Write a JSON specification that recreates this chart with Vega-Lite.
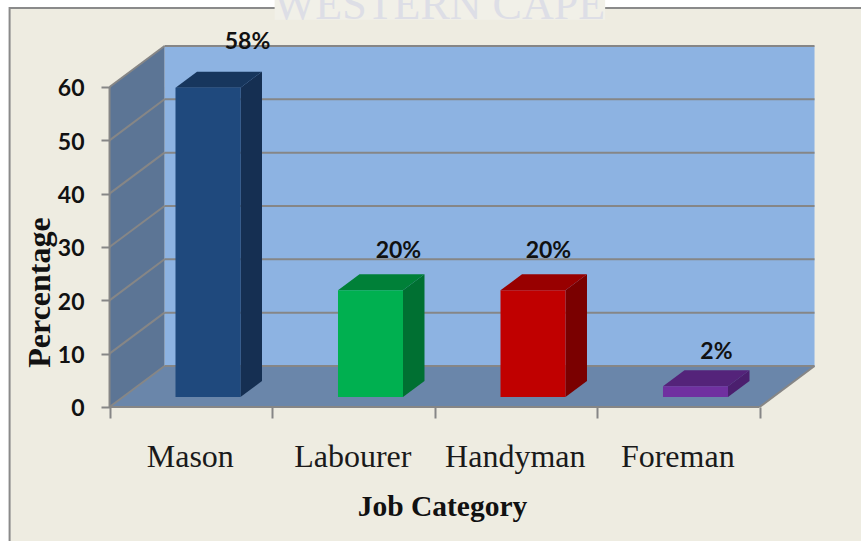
{
"$schema":"https://vega.github.io/schema/vega-lite/v6.json",
"width":861,"height":541,"padding":0,"autosize":{"type":"none"},
"background":"#ffffff",
"view":{"stroke":null},
"params":[
{"name":"dx","value":0.3385},{"name":"dy","value":7.69},
{"name":"bdx","value":0.1323},{"name":"bdy","value":3.0},
{"name":"inset","value":1.875}
],
"datasets":{
"bars":[
{"category":"Mason","index":0,"value":58},
{"category":"Labourer","index":1,"value":20},
{"category":"Handyman","index":2,"value":20},
{"category":"Foreman","index":3,"value":2}
],
"ticks":[{"tick":0},{"tick":10},{"tick":20},{"tick":30},{"tick":40},{"tick":50},{"tick":60}],
"one":[{"k":0}]
},
"encoding":{
"x":{"field":"x","type":"quantitative",
"scale":{"domain":[-0.674,4.6245],"nice":false,"zero":false},
"axis":{"orient":"bottom","offset":-134,"zindex":1,"grid":false,"domain":false,
"values":[0,0.5,1,1.5,2,2.5,3,3.5,4],
"labelExpr":"{'0.5':'Mason','1.5':'Labourer','2.5':'Handyman','3.5':'Foreman'}[datum.value] || ''",
"tickColor":{"condition":{"test":"datum.value % 1 == 0","value":"#868686"},"value":"transparent"},
"tickSize":11,"tickWidth":2,"labelPadding":23,"labelOffset":-1,"labelFont":"Liberation Serif","labelFontSize":32,"labelColor":"#1a1a1a","labelOverlap":false,"labelFlush":false,"labelBound":false,
"title":"Job Category","titleFont":"Liberation Serif","titleFontWeight":"bold","titleFontSize":29.5,"titleColor":"#111111","titleX":442,"titleY":85,"titleAnchor":"middle","titleAlign":"center"}},
"y":{"field":"y","type":"quantitative",
"scale":{"domain":[-25.125,76.31],"nice":false,"zero":false},
"axis":{"orient":"left","offset":-110,"zindex":1,"grid":false,"domain":false,
"values":[0,10,20,30,40,50,60],"tickColor":"#868686","tickSize":9,"tickWidth":2,"labelPadding":17,"labelOffset":2,"labelFont":"Lato","labelFontWeight":"bold","labelFontSize":23,"labelColor":"#111111",
"title":"Percentage","titleFont":"Liberation Serif","titleFontWeight":"bold","titleFontSize":32,"titleColor":"#111111","titleX":-54,"titleY":292,"titleAnchor":"middle","titleAlign":"center","titleAngle":-90}}
},
"layer":[
{"data":{"name":"one"},
"transform":[{"calculate":"-0.615","as":"x"},{"calculate":"5","as":"x2"},{"calculate":"74.8","as":"y"},{"calculate":"-40","as":"y2"}],
"mark":{"type":"rect","fill":"#eeece1","stroke":"#8a8a8a","strokeWidth":2},
"encoding":{"x2":{"field":"x2"},"y2":{"field":"y2"}}},
{"data":{"name":"one"},
"transform":[{"calculate":"dx","as":"x"},{"calculate":"4+dx","as":"x2"},{"calculate":"dy","as":"y"},{"calculate":"60+dy","as":"y2"}],
"mark":{"type":"rect","fill":"#8db3e2"},
"encoding":{"x2":{"field":"x2"},"y2":{"field":"y2"}}},
{"data":{"name":"one"},
"transform":[{"calculate":"[0,1]","as":"t"},{"flatten":["t"]},{"calculate":"datum.t*dx","as":"x"},{"calculate":"datum.t*dy","as":"y"},{"calculate":"60+datum.t*dy","as":"y2"}],
"mark":{"type":"area","fill":"#5c7595"},
"encoding":{"y2":{"field":"y2"}}},
{"data":{"name":"one"},
"transform":[{"calculate":"[0,1,2,3]","as":"t"},{"flatten":["t"]},{"calculate":"[0,dx,4,4+dx][datum.t]","as":"x"},{"calculate":"[0,0,0,dy][datum.t]","as":"y"},{"calculate":"[0,dy,dy,dy][datum.t]","as":"y2"}],
"mark":{"type":"area","fill":"#6a86aa"},
"encoding":{"y2":{"field":"y2"}}},
{"data":{"name":"ticks"},
"transform":[{"calculate":"dx","as":"x"},{"calculate":"4+dx","as":"x2"},{"calculate":"datum.tick+dy","as":"y"},{"calculate":"datum.tick+dy","as":"y2"}],
"mark":{"type":"rule","stroke":"#868686","strokeWidth":2},
"encoding":{"x2":{"field":"x2"},"y2":{"field":"y2"}}},
{"data":{"name":"ticks"},
"transform":[{"calculate":"0","as":"x"},{"calculate":"dx","as":"x2"},{"calculate":"datum.tick","as":"y"},{"calculate":"datum.tick+dy","as":"y2"}],
"mark":{"type":"rule","stroke":"#868686","strokeWidth":2},
"encoding":{"x2":{"field":"x2"},"y2":{"field":"y2"}}},
{"data":{"name":"one"},
"transform":[{"calculate":"[0,1,2]","as":"t"},{"flatten":["t"]},{"calculate":"[0,0,4][datum.t]","as":"x"},{"calculate":"[0,0,4+dx][datum.t]","as":"x2"},{"calculate":"[0,0,0][datum.t]","as":"y"},{"calculate":"[60,0,dy][datum.t]","as":"y2"}],
"mark":{"type":"rule","stroke":"#868686","strokeWidth":2},
"encoding":{"x2":{"field":"x2"},"y2":{"field":"y2"}}},
{"data":{"name":"one"},
"transform":[{"calculate":"0","as":"x"},{"calculate":"4","as":"x2"},{"calculate":"0","as":"y"},{"calculate":"0","as":"y2"}],
"mark":{"type":"rule","stroke":"#868686","strokeWidth":2},
"encoding":{"x2":{"field":"x2"},"y2":{"field":"y2"}}},
{"data":{"name":"bars"},
"transform":[{"calculate":"[0,1]","as":"t"},{"flatten":["t"]},{"calculate":"datum.index+0.806+datum.t*bdx","as":"x"},{"calculate":"inset+datum.t*bdy","as":"y"},{"calculate":"inset+datum.value+datum.t*bdy","as":"y2"}],
"mark":{"type":"area"},
"encoding":{"y2":{"field":"y2"},"fill":{"field":"category","type":"nominal","legend":null,"scale":{"domain":["Mason","Labourer","Handyman","Foreman"],"range":["#152f52","#007032","#7a0000","#4b1f6e"]}}}},
{"data":{"name":"bars"},
"transform":[{"calculate":"[0,1,2,3]","as":"t"},{"flatten":["t"]},{"calculate":"datum.index+[0.406,0.406+bdx,0.806,0.806+bdx][datum.t]","as":"x"},{"calculate":"inset+datum.value+[0,0,0,bdy][datum.t]","as":"y"},{"calculate":"inset+datum.value+[0,bdy,bdy,bdy][datum.t]","as":"y2"}],
"mark":{"type":"area"},
"encoding":{"y2":{"field":"y2"},"fill":{"field":"category","type":"nominal","legend":null,"scale":{"domain":["Mason","Labourer","Handyman","Foreman"],"range":["#17365d","#008038","#980000","#54237a"]}}}},
{"data":{"name":"bars"},
"transform":[{"calculate":"datum.index+0.406","as":"x"},{"calculate":"datum.index+0.806","as":"x2"},{"calculate":"inset","as":"y"},{"calculate":"inset+datum.value","as":"y2"}],
"mark":{"type":"rect"},
"encoding":{"x2":{"field":"x2"},"y2":{"field":"y2"},"fill":{"field":"category","type":"nominal","legend":null,"scale":{"domain":["Mason","Labourer","Handyman","Foreman"],"range":["#1f497d","#00b050","#c00000","#7030a0"]}}}},
{"data":{"name":"bars"},
"transform":[{"calculate":"datum.value+'%'","as":"label"},
{"calculate":"{'Mason':0.849,'Labourer':1.778,'Handyman':2.701,'Foreman':3.735}[datum.category]","as":"x"},
{"calculate":"{'Mason':68.4,'Labourer':29.2,'Handyman':29.2,'Foreman':10.3}[datum.category]","as":"y"}],
"mark":{"type":"text","font":"Lato","fontWeight":"bold","fontSize":23,"align":"center","baseline":"middle","fill":"#111111"},
"encoding":{"text":{"field":"label"}}},
{"data":{"name":"one"},
"transform":[{"calculate":"1.016","as":"x"},{"calculate":"3.05","as":"x2"},{"calculate":"72.6","as":"y"},{"calculate":"76.31","as":"y2"}],
"mark":{"type":"rect","fill":"#f1f0e8"},
"encoding":{"x2":{"field":"x2"},"y2":{"field":"y2"}}},
{"data":{"values":[{"label":"WESTERN CAPE"}]},
"transform":[{"calculate":"2.03","as":"x"},{"calculate":"72.8","as":"y"}],
"mark":{"type":"text","font":"Liberation Serif","fontSize":44,"align":"center","baseline":"alphabetic","fill":"#dddee6"},
"encoding":{"text":{"field":"label"}}}
],
"resolve":{"scale":{"fill":"independent"}}
}
